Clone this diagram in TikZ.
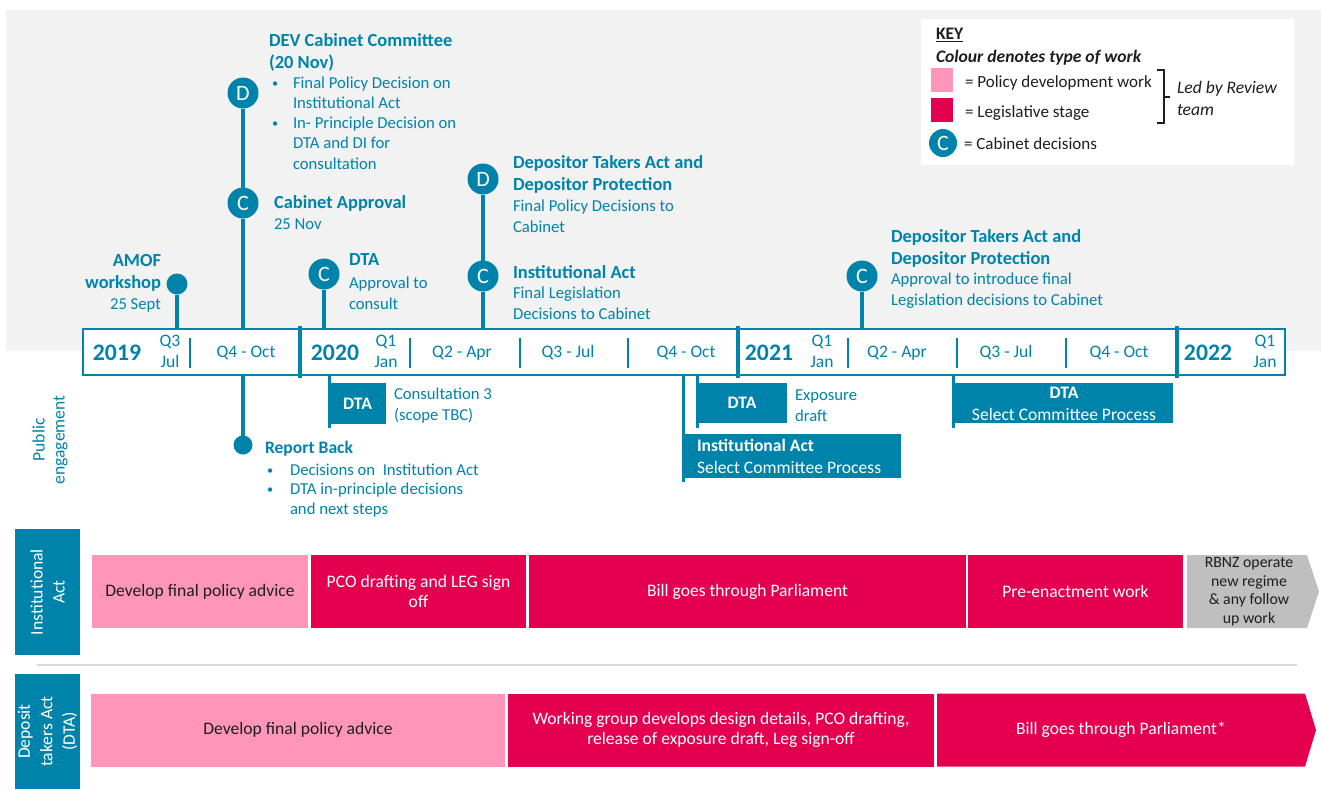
\documentclass[tikz,border=0pt]{standalone}
\usepackage{fontspec}
\setmainfont{Carlito}
\definecolor{tblue}{RGB}{0,131,170}
\definecolor{tpink}{RGB}{255,150,186}
\definecolor{tred}{RGB}{228,0,79}
\definecolor{tbg}{RGB}{242,242,242}
\definecolor{tgrey}{RGB}{191,191,191}
\definecolor{tsep}{RGB}{217,217,217}
\definecolor{tdark}{RGB}{30,30,30}
\newdimen\pxu \pxu=0.02cm
\newcommand{\smbul}{\raisebox{0.5pt}{\fontsize{7}{7}\selectfont\textbullet}}
\begin{document}
\begin{tikzpicture}[x=0.02cm,y=-0.02cm,
  every node/.style={inner sep=0pt,outer sep=0pt},
  reg/.style={text=tblue,font=\fontsize{9.5}{11.7}\selectfont,align=left,anchor=base west},
  hd/.style={text=tblue,font=\fontsize{10.5}{12.5}\selectfont\bfseries,align=left,anchor=base west},
  cdot/.style={circle,fill=tblue,text=white,minimum size=31\pxu,font=\fontsize{12.5}{12.5}\selectfont},
  sdot/.style={circle,fill=tblue,minimum size=21\pxu},
  stem/.style={draw=tblue,line width=4\pxu},
  lstem/.style={draw=tblue,line width=3\pxu},
  ydiv/.style={draw=tblue,line width=4\pxu},
  qdiv/.style={draw=tblue,line width=1.5\pxu},
  year/.style={text=tblue,font=\fontsize{13.5}{14}\selectfont\bfseries,anchor=base},
  qtr/.style={text=tblue,font=\fontsize{10}{11.4}\selectfont,anchor=base,align=center},
  bbox/.style={fill=tblue,text=white,font=\fontsize{10}{12}\selectfont\bfseries,align=center},
  keytxt/.style={font=\fontsize{9.7}{12}\selectfont,anchor=base west,text=tdark,align=left},
  pinkbox/.style={fill=tpink,text=tdark,font=\fontsize{10}{11.8}\selectfont,align=center},
  redbox/.style={fill=tred,text=white,font=\fontsize{10}{11.8}\selectfont,align=center},
  sidebox/.style={fill=tblue,text=white,font=\fontsize{10}{12.5}\selectfont,align=center,rotate=90},
]
\useasboundingbox (0,0) rectangle (1321,789);
% grey background
\fill[tbg] (6,10) rectangle (1321,351);

% KEY
\node[fill=white,minimum width=373\pxu,minimum height=146\pxu,anchor=north west] (key) at (921,19) {};
\node[keytxt,font=\fontsize{10}{12}\selectfont\bfseries] (keyt) at (936,39) {\underline{KEY}};
\node[keytxt,font=\fontsize{10}{12}\selectfont\bfseries\itshape] (keyc) at (936,62) {Colour denotes type of work};
\node[fill=tpink,minimum width=22\pxu,minimum height=24\pxu,anchor=north west] (kp) at (931,68) {};
\node[keytxt] (kpt) at (965,87) {= Policy development work};
\node[fill=tred,minimum width=22\pxu,minimum height=24\pxu,anchor=north west] (kr) at (931,98) {};
\node[keytxt] (krt) at (965,117) {= Legislative stage};
\node[cdot,minimum size=28\pxu] (kc) at (943,143) {C};
\node[keytxt] (kct) at (964,149) {= Cabinet decisions};
\draw[tdark,line width=1.2\pxu] (1157,70) -- (1164,70) -- (1164,123) -- (1157,123);
\draw[tdark,line width=1.2\pxu] (1164,97) -- (1170,97);
\node[keytxt,font=\fontsize{10}{12}\selectfont\itshape] (led) at (1177,115) {Led by Review\\team};

% timeline bar
\node[draw=tblue,line width=2\pxu,fill=white,minimum width=1202\pxu,minimum height=46\pxu] (bar) at (684,352) {};
\foreach \x in {190,410,520,628,848,957,1066} \draw[qdiv] (\x,338) -- (\x,368);
\foreach \x in {300,738,1177} \draw[ydiv] (\x,326) -- (\x,378);
\node[year] (y19) at (117,360) {2019};
\node[qtr] (q193) at (170,367) {Q3\\Jul};
\node[qtr] (q194) at (246,357) {Q4 - Oct};
\node[year] (y20) at (335,360) {2020};
\node[qtr] (q201) at (386,367) {Q1\\Jan};
\node[qtr] (q202) at (462,357) {Q2 - Apr};
\node[qtr] (q203) at (568,357) {Q3 - Jul};
\node[qtr] (q204) at (686,357) {Q4 - Oct};
\node[year] (y21) at (769,360) {2021};
\node[qtr] (q211) at (822,367) {Q1\\Jan};
\node[qtr] (q212) at (897,357) {Q2 - Apr};
\node[qtr] (q213) at (1006,357) {Q3 - Jul};
\node[qtr] (q214) at (1119,357) {Q4 - Oct};
\node[year] (y22) at (1208,360) {2022};
\node[qtr] (q221) at (1265,367) {Q1\\Jan};

% milestones above
\node[sdot] (amof) at (177,284) {};
\draw[stem] (amof.south) -- (amof |- bar.north);
\node[hd,anchor=base east,align=right] (amoft) at (161,288) {AMOF\\workshop};
\node[reg,anchor=base east] (amofd) at (161,309) {25 Sept};

\node[cdot] (devd) at (243,93) {D};
\node[cdot] (devc) at (243,203) {C};
\draw[stem] (devd.south) -- (devc.north);
\draw[stem] (devc.south) -- (devc |- bar.north);
\node[hd] (devh) at (269,68) {DEV Cabinet Committee\\(20 Nov)};
\node[reg,font=\fontsize{9.5}{11.5}\selectfont] (devb) at (272,169) {\makebox[21\pxu][l]{\smbul}Final Policy Decision on\\\hspace*{21\pxu}Institutional Act\\\makebox[21\pxu][l]{\smbul}In- Principle Decision on\\\hspace*{21\pxu}DTA and DI for\\\hspace*{21\pxu}consultation};
\node[hd] (cabh) at (274,208) {Cabinet Approval};
\node[reg] (cabd) at (274,229) {25 Nov};

\node[cdot] (dtac1) at (324,274) {C};
\draw[stem] (dtac1.south) -- (dtac1 |- bar.north);
\node[hd] (dtah) at (349,265) {DTA};
\node[reg] (dtad) at (349,309) {Approval to\\consult};

\node[cdot] (dpd) at (483,179) {D};
\node[cdot] (iac) at (483,276) {C};
\draw[stem] (dpd.south) -- (iac.north);
\draw[stem] (iac.south) -- (iac |- bar.north);
\node[hd] (dph) at (513,190) {Depositor Takers Act and\\Depositor Protection};
\node[reg] (dpdt) at (513,232) {Final Policy Decisions to\\Cabinet};
\node[hd] (iah) at (513,278) {Institutional Act};
\node[reg] (iad) at (513,319) {Final Legislation\\Decisions to Cabinet};

\node[cdot] (dpc) at (862,276) {C};
\draw[stem] (dpc.south) -- (dpc |- bar.north);
\node[hd] (dph2) at (891,264) {Depositor Takers Act and\\Depositor Protection};
\node[reg] (dpd2) at (891,305) {Approval to introduce final\\Legislation decisions to Cabinet};

% below bar
\node[sdot,minimum size=19\pxu] (rb) at (243,445) {};
\draw[stem] (devc |- bar.south) -- (rb.north);
\node[hd,font=\fontsize{10}{12}\selectfont\bfseries] (rbh) at (265,453) {Report Back};
\node[reg,font=\fontsize{9.5}{11.1}\selectfont] (rbb) at (267,514) {\makebox[23\pxu][l]{\smbul}Decisions on\ \ Institution Act\\\makebox[23\pxu][l]{\smbul}DTA in-principle decisions\\\hspace*{23\pxu}and next steps};

\node[bbox,minimum width=57\pxu,minimum height=41\pxu,anchor=north west] (dtacons) at (329,383) {DTA};
\draw[lstem] (dtacons.north west |- bar.south) -- ++(0,53);
\node[reg] (dtaconst) at (394,420) {Consultation 3\\(scope TBC)};

\node[bbox,minimum width=218\pxu,minimum height=44\pxu,anchor=north west] (iasc) at (683,434) {};
\draw[lstem] (iasc.north west |- bar.south) -- ++(0,107);
\node[text=white,font=\fontsize{10}{12}\selectfont,align=left,anchor=base west] (iasct) at (697,473) {\textbf{Institutional Act}\\Select Committee Process};

\node[bbox,minimum width=90\pxu,minimum height=40\pxu,anchor=north west] (dtaexp) at (697,383) {DTA};
\draw[lstem] (dtaexp.north west |- bar.south) -- ++(0,53);
\node[reg] (dtaexpt) at (795,421) {Exposure\\draft};

\node[bbox,minimum width=220\pxu,minimum height=40\pxu,anchor=north west] (dtasc) at (953,383) {};
\draw[lstem] (dtasc.north west |- bar.south) -- ++(0,53);
\node[text=white,font=\fontsize{10}{12}\selectfont,align=center,anchor=base] (dtasct) at (1064,420) {\textbf{DTA}\\Select Committee Process};

% side labels
\node[text=tblue,font=\fontsize{10}{11.4}\selectfont,align=center,rotate=90] (pub) at (50,440) {Public\\engagement};
\node[sidebox,minimum width=126\pxu,minimum height=65\pxu] (sia) at (47.5,592) {Institutional\\Act};
\node[sidebox,minimum width=115\pxu,minimum height=65\pxu,font=\fontsize{10}{12.8}\selectfont] (sdta) at (47.5,731.5) {Deposit\\takers Act\\(DTA)};
\draw[tsep,line width=1.5\pxu] (37,665) -- (1297,665);

% Institutional Act row
\node[pinkbox,minimum width=216\pxu,minimum height=73\pxu] (ia1) at (200,591.5) {Develop final policy advice};
\node[redbox,minimum width=215\pxu,minimum height=73\pxu] (ia2) at (418.5,591.5) {PCO drafting and LEG sign\\off};
\node[redbox,minimum width=437\pxu,minimum height=73\pxu] (ia3) at (747.5,591.5) {Bill goes through Parliament};
\node[redbox,minimum width=215\pxu,minimum height=73\pxu] (ia4) at (1075.5,591.5) {Pre-enactment work};
\fill[tgrey] (1187,555) -- (1307,555) -- (1319,591.5) -- (1307,628) -- (1187,628) -- cycle;
\node[text=tdark,font=\fontsize{9}{10.6}\selectfont,align=center] (ia5) at (1249,591.5) {RBNZ operate\\new regime\\\& any follow\\up work};

% DTA row
\node[pinkbox,minimum width=414\pxu,minimum height=73\pxu] (dt1) at (298,730) {Develop final policy advice};
\node[redbox,minimum width=426\pxu,minimum height=73\pxu] (dt2) at (721,730) {Working group develops design details, PCO drafting,\\release of exposure draft, Leg sign-off};
\fill[tred] (937,693.5) -- (1305,693.5) -- (1316,730) -- (1305,766.5) -- (937,766.5) -- cycle;
\node[text=white,font=\fontsize{10}{11.8}\selectfont] (dt3) at (1121,730) {Bill goes through Parliament*};
\end{tikzpicture}
\end{document}
